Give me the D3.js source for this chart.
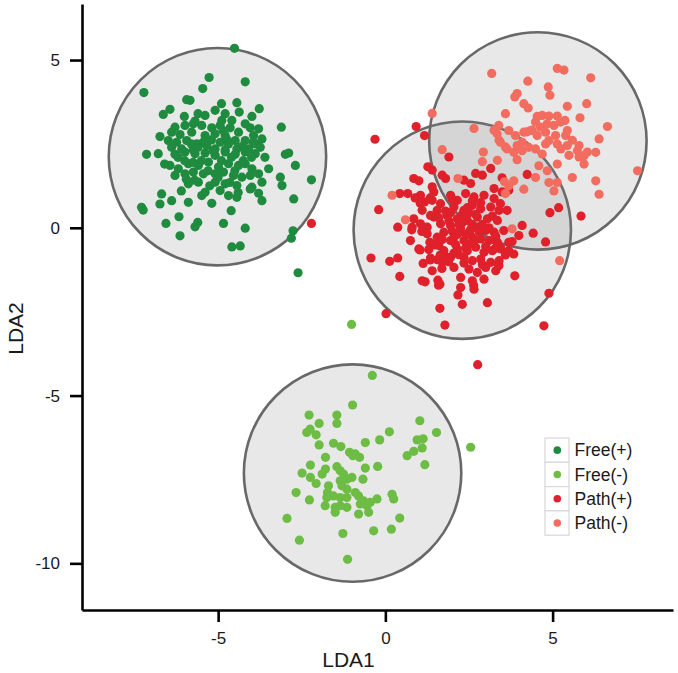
<!DOCTYPE html>
<html>
<head>
<meta charset="utf-8">
<script src="https://cdn.jsdelivr.net/npm/d3@7"></script>
<style>
  html, body { margin: 0; padding: 0; background: #ffffff; }
  svg { display: block; }
  text { font-family: "Liberation Sans", Arial, Helvetica, sans-serif; }
</style>
</head>
<body>
<div id="chart"></div>
<script>
// ---------------- data ----------------
const categories = ["Free(+)", "Free(-)", "Path(+)", "Path(-)"];
const colors = ["#1f8b3f", "#6dbd45", "#e0202a", "#f26d5f"];
const xTicks = [-5, 0, 5];
const yTicks = [-10, -5, 0, 5];
const xLabel = "LDA1";
const yLabel = "LDA2";

// circle centres (LDA1, LDA2) and radius in LDA units
const circleCenters = [[-5.02, 2.12], [-0.98, -7.31], [2.30, -0.07], [4.56, 2.59]];
const circleRadius = 3.25;

const freePlus = [
  [-4.51,5.35],[-7.22,4.03],[-5.27,4.48],[-4.19,4.35],[-5.46,4.15],[-5.94,3.82],[-5.84,3.80],[-4.44,3.73],
  [-6.44,3.53],[-6.64,3.38],[-6.01,3.32],[-5.39,3.35],[-5.09,3.50],[-4.79,3.40],[-4.37,3.45],[-3.77,3.55],
  [-3.99,3.32],[-5.69,3.18],[-4.89,3.20],[-4.59,3.20],[-6.29,3.00],[-5.99,3.05],[-5.74,3.10],[-5.49,3.05],
  [-5.19,2.98],[-4.94,3.05],[-4.64,2.98],[-4.19,3.10],[-4.04,2.98],[-3.79,2.95],[-3.11,3.00],[-6.39,2.85],
  [-6.14,2.78],[-5.79,2.85],[-5.39,2.75],[-5.09,2.80],[-4.79,2.75],[-4.39,2.85],[-3.94,2.75],[-6.74,2.72],
  [-6.49,2.60],[-6.24,2.55],[-5.94,2.60],[-5.64,2.50],[-5.34,2.45],[-4.94,2.55],[-4.69,2.50],[-4.49,2.60],
  [-4.19,2.60],[-3.89,2.50],[-3.69,2.65],[-6.39,2.40],[-6.09,2.35],[-5.74,2.32],[-5.09,2.35],[-4.79,2.32],
  [-4.44,2.35],[-4.09,2.35],[-3.74,2.40],
  [-7.14,2.19],[-6.79,2.21],[-6.29,2.19],[-5.99,2.26],[-5.69,2.21],[-5.39,2.23],[-5.09,2.16],[-4.79,2.26],
  [-4.49,2.19],[-4.19,2.26],[-3.89,2.21],[-2.99,2.19],[-2.89,2.23],
  [-6.44,1.86],[-6.19,1.76],[-5.89,1.91],[-5.59,1.86],[-5.29,1.96],[-4.99,1.81],[-4.69,1.91],[-4.39,1.86],
  [-4.19,1.91],[-3.99,1.76],[-3.49,1.76],[-2.69,1.86],[-6.29,1.56],[-5.99,1.61],[-5.74,1.66],[-5.44,1.61],
  [-5.09,1.61],[-4.84,1.66],[-4.54,1.56],[-4.29,1.51],[-4.04,1.56],[-3.79,1.61],[-3.14,1.51],[-3.09,1.26],
  [-2.21,1.43],
  [-5.89,1.31],[-5.59,1.36],[-5.09,1.36],[-4.79,1.31],[-4.44,1.26],[-3.99,1.21],[-3.69,1.36],[-5.39,1.06],
  [-5.49,0.96],[-4.94,1.11],[-4.69,0.96],[-4.44,0.91],[-4.04,1.16],[-3.79,1.03],[-6.69,1.01],[-6.74,0.71],
  [-6.39,0.81],[-5.89,0.76],[-5.19,0.73],[-3.69,0.81],[-2.74,0.86],[-7.29,0.61],[-7.24,0.53],
  [-4.61,0.51],[-6.56,0.13],[-6.17,0.33],[-5.61,0.16],[-5.69,0.03],[-4.84,0.13],[-4.19,-0.01],[-6.14,-0.24],
  [-2.76,-0.09],[-2.81,-0.31],[-4.59,-0.57],[-4.34,-0.54],[-2.61,-1.34],
  [-5.60,2.40],[-5.20,2.62],[-4.90,2.00],[-5.50,2.00],[-4.60,2.10],[-5.80,2.50],[-4.30,2.42],[-5.00,1.50],
  [-5.30,1.70],[-4.50,1.70],[-5.70,1.42],[-6.00,2.00],[-4.00,2.10],[-5.15,2.30],[-4.75,2.65],
  [-6.20,2.10],[-5.95,1.45],[-5.45,2.55],[-4.85,2.90],[-4.25,2.00],[-3.95,2.55],[-5.75,1.95],[-6.60,1.90],
  [-4.65,1.35],[-5.25,1.25],[-3.60,2.10],[-4.90,3.70],[-5.60,3.40],[-6.10,1.10],[-4.40,1.05]
];

const freeMinus = [
  [-0.39,-4.40],[-0.98,-5.28],[-2.28,-5.58],[-1.45,-5.58],[-1.45,-5.83],[-1.98,-5.83],[-2.25,-6.00],[-2.35,-6.10],
  [-2.07,-6.17],[-1.98,-6.47],[-1.55,-6.42],[-1.33,-6.52],[-0.60,-6.40],[-0.17,-6.32],[0.12,-6.08],[1.03,-5.75],
  [1.53,-6.10],[0.95,-6.32],[1.13,-6.29],[1.10,-6.56],[0.85,-6.66],[0.65,-6.79],[1.18,-7.06],[2.55,-6.54],
  [-1.07,-6.69],[-0.90,-6.74],[-0.77,-6.84],[-0.97,-6.79],[-1.79,-6.84],[-2.24,-7.07],[-1.45,-7.12],[-1.35,-7.24],
  [-1.79,-7.19],[-1.89,-7.34],[-0.60,-7.16],[-0.23,-7.11],[-2.49,-7.31],[-2.24,-7.44],[-2.07,-7.62],[-1.70,-7.69],
  [-1.73,-7.89],[-1.25,-7.34],[-1.15,-7.49],[-1.00,-7.44],[-1.35,-7.54],[-0.67,-7.49],[-1.30,-7.69],[-1.15,-7.79],
  [-2.67,-7.89],[-2.27,-8.11],[-1.75,-8.04],[-1.55,-7.99],[-1.35,-8.04],[-1.15,-8.04],[-0.90,-7.89],[-0.80,-7.99],
  [-0.65,-8.14],[-1.80,-8.28],[-1.50,-8.33],[-1.35,-8.28],[-1.15,-8.33],[-0.75,-8.23],[-0.45,-8.18],[-0.25,-8.08],
  [-0.55,-8.28],[0.20,-7.94],[0.25,-8.08],[-1.50,-8.48],[-0.80,-8.53],[-0.50,-8.48],[0.43,-8.65],[-2.94,-8.66],
  [-1.27,-9.11],[-0.35,-9.03],[0.18,-8.98],[-2.57,-9.31],[-1.13,-9.88],[-1.01,-2.88]
];

const pathPlus = [
  [-2.21,0.13],[-0.31,2.64],[0.92,3.02],[1.17,2.75],[1.90,2.11],[4.24,1.59],[4.92,0.45],[5.18,0.60],
  [5.85,0.35],[4.79,-0.42],[4.89,-1.95],[4.74,-2.92],[0.02,-2.56],[1.78,-2.90],[-0.43,-0.90],[-0.20,0.54],
  [2.76,-4.08],
  [0.43,1.02],[0.67,1.02],[1.00,0.92],[1.17,0.77],[1.40,0.82],[1.45,1.07],[0.37,0.02],[0.80,0.02],
  [1.05,0.12],[1.25,0.02],[1.45,0.32],[1.65,0.12],[0.75,-0.38],[1.00,-0.63],[1.33,-0.43],[1.55,-0.28],
  [1.75,-0.13],[1.95,-0.38],[0.13,-1.00],[0.37,-0.90],[1.13,-1.06],[1.35,-0.90],[1.40,-1.28],[1.70,-1.03],
  [1.85,-0.88],[0.43,-1.45],[1.10,-1.58],[1.57,-1.56],[1.63,-1.68],[2.25,-1.78],[2.17,-2.00],[2.60,-1.58],
  [2.65,-1.83],[2.95,-1.53],[3.05,-2.23],[2.30,-2.28],[1.63,-2.40],
  [1.95,0.97],[2.15,0.82],[2.40,1.02],[2.65,0.92],[2.95,0.97],[3.25,0.87],[2.05,0.62],[2.35,0.52],
  [2.60,0.67],[2.85,0.57],[3.15,0.62],[3.40,0.52],[1.85,0.37],[2.15,0.27],[2.45,0.22],[2.75,0.32],
  [3.05,0.27],[3.35,0.22],[1.95,0.07],[2.25,-0.03],[2.50,-0.13],[2.75,0.02],[3.00,-0.08],[3.25,-0.13],
  [2.05,-0.28],[2.35,-0.38],[2.60,-0.28],[2.85,-0.33],[3.10,-0.38],[3.35,-0.43],[2.15,-0.63],[2.45,-0.68],
  [2.70,-0.58],[2.95,-0.73],[3.20,-0.68],[3.45,-0.63],[2.35,-0.88],[2.60,-0.98],[2.85,-0.93],[3.15,-1.03],
  [3.40,-0.98],[2.50,-1.23],[2.75,-1.33],[3.00,-1.18],[3.30,-1.28],
  [1.10,0.52],[1.35,0.37],[1.55,0.52],[1.65,0.72],[0.85,0.27],[1.25,-0.18],[1.60,-0.53],[1.75,-0.68],
  [1.95,-0.88],[2.05,-1.18],[2.25,-1.48],
  [3.49,1.07],[3.69,1.12],[3.44,0.72],[3.64,0.52],[4.09,0.07],[3.99,-0.23],[4.42,-0.16],[3.54,-0.08],
  [3.29,-0.38],[3.44,-0.58],[3.69,-0.43],[3.69,-0.68],[3.84,-0.78],[3.39,-1.13],[3.87,-1.43],
  [1.27,1.82],[1.40,1.72],[1.70,1.57],[1.80,1.47],[0.85,1.47],[1.00,1.40],[1.05,0.97],[1.40,1.22],
  [2.35,1.42],[2.55,1.32],[2.70,1.62],[2.90,1.57],[3.15,1.77],[3.25,1.17],[3.49,1.49],
  [0.89,0.89],[1.04,0.74],[1.34,0.89],[0.79,-0.06],[1.09,-0.11],[1.04,-0.66],[1.49,-0.51],[1.64,-0.81],
  [1.89,-1.01],[1.34,-0.96],[1.19,-1.61],[1.59,-1.71],[1.69,-1.21],[2.64,-1.71],[3.79,-0.41],[3.59,-0.81],
  [3.39,-1.11],[3.29,-0.61],
  [2.20,0.10],[2.40,-0.20],[2.60,0.10],[2.00,-0.10],[2.30,0.40],[2.50,-0.50],[2.80,-0.10],[2.10,-0.50],
  [1.90,0.20],[2.70,0.40],[2.90,0.10],[2.20,-0.80],[2.45,0.60],[1.80,0.50],[3.10,0.00],[2.35,-1.05],
  [2.00,0.85],[2.60,0.80],[1.70,-0.35],[3.00,-0.55],
  [2.30,0.15],[2.55,-0.05],[2.15,-0.20],[2.70,-0.35],[2.40,-0.60],[1.95,0.45],[2.85,0.75],[3.20,0.35],
  [1.60,0.30],[2.05,-0.75],[2.90,-1.10],[1.55,-0.95],[2.50,0.45],[3.30,-0.25],[1.30,-0.65]
];

const pathMinus = [
  [3.18,4.60],[5.14,4.75],[5.34,4.70],[6.14,4.47],[4.26,4.37],[4.87,4.20],[4.92,3.95],[3.94,4.00],
  [3.87,3.90],[4.14,3.70],[4.27,3.57],[5.44,3.62],[6.02,3.70],[3.59,3.40],[4.54,3.32],[4.69,3.35],
  [4.89,3.33],[5.14,3.33],[5.37,3.20],[5.82,3.28],[6.64,3.02],[4.49,3.15],[4.64,3.00],[4.84,3.10],
  [5.04,3.05],[5.24,3.15],[5.44,2.90],[4.14,2.85],[4.34,2.90],[4.54,2.75],[4.79,2.85],[4.89,2.60],
  [5.09,2.75],[5.39,2.75],[5.44,2.45],[5.79,2.45],[5.74,2.30],[5.94,2.15],[5.94,1.90],[6.29,2.25],
  [6.39,2.65],[3.39,3.05],[3.34,2.80],[3.69,2.90],[3.89,2.75],[4.09,2.55],[3.94,2.45],[4.29,2.40],
  [4.49,2.35],[4.79,2.50],[4.69,2.20],[5.14,2.50],[5.25,2.35],[3.44,2.55],[3.64,2.35],[3.84,2.25],
  [4.09,2.30],[3.94,2.03],[4.59,1.85],[4.84,1.70],[5.14,1.90],[5.59,1.50],[4.89,1.35],[5.14,1.35],
  [5.04,1.10],[6.29,1.40],[6.39,1.00],[7.54,1.70],[4.49,1.50],[4.14,1.15],[3.84,1.40],[3.69,1.25],
  [1.40,3.41],[2.65,2.96],[3.25,2.91],[3.40,2.61],[1.70,2.33],[2.93,2.26],[2.90,1.97],[3.35,2.01],
  [2.17,1.47],[0.20,0.97],[0.60,0.24],[3.59,1.02],[3.79,-0.03],[5.21,-0.98],[5.49,2.16],[5.79,2.11],
  [3.56,1.37],[4.39,2.91],[4.24,2.86],[5.59,2.61],[6.04,2.26],[3.59,2.41]
];

const groups = [freePlus, freeMinus, pathPlus, pathMinus];

// ---------------- drawing ----------------
const W = 678, H = 673;
const svg = d3.select("#chart").append("svg").attr("width", W).attr("height", H);

const x = d3.scaleLinear().domain([-9.07, 8.6]).range([82, 673]);
const y = d3.scaleLinear().domain([-11.39, 6.67]).range([610, 4]);

// circles
const rPx = x(circleRadius) - x(0);
svg.append("g").selectAll("circle")
  .data(circleCenters)
  .join("circle")
  .attr("cx", d => x(d[0]))
  .attr("cy", d => y(d[1]))
  .attr("r", rPx)
  .attr("fill", "#7f7f7f")
  .attr("fill-opacity", 0.18)
  .attr("stroke", "#686868")
  .attr("stroke-width", 2.6);

// points
groups.forEach((g, i) => {
  svg.append("g").selectAll("circle")
    .data(g)
    .join("circle")
    .attr("cx", d => x(d[0]))
    .attr("cy", d => y(d[1]))
    .attr("r", 4.6)
    .attr("fill", colors[i]);
});

// axes
const xAxis = svg.append("g")
  .attr("transform", "translate(0,610)")
  .call(d3.axisBottom(x).tickValues(xTicks).tickSize(12).tickSizeOuter(0).tickPadding(10).tickFormat(d3.format("d")));
const yAxis = svg.append("g")
  .attr("transform", "translate(82,0)")
  .call(d3.axisLeft(y).tickValues(yTicks).tickSize(12).tickSizeOuter(0).tickPadding(10).tickFormat(d3.format("d")));

[xAxis, yAxis].forEach(a => {
  a.select(".domain").attr("stroke", "#000").attr("stroke-width", 2.6);
  a.selectAll(".tick line").attr("stroke", "#000").attr("stroke-width", 2.6);
  a.selectAll(".tick text").attr("fill", "#1a1a1a").style("font-size", "17px")
    .style("font-family", "'Liberation Sans', Arial, Helvetica, sans-serif");
});
// use hyphen-minus for negative labels like the reference
svg.selectAll(".tick text").text(d => String(d));

// axis titles
svg.append("text")
  .attr("x", 348.5).attr("y", 667)
  .attr("text-anchor", "middle")
  .style("font-size", "21px").attr("fill", "#1a1a1a")
  .text(xLabel);
svg.append("text")
  .attr("transform", "translate(23,328.5) rotate(-90)")
  .attr("text-anchor", "middle")
  .style("font-size", "21px").attr("fill", "#1a1a1a")
  .text(yLabel);

// legend
const legend = svg.append("g").attr("transform", "translate(545,438)");
const keyH = 24.3;
categories.forEach((c, i) => {
  const row = legend.append("g").attr("transform", `translate(0,${i * keyH})`);
  row.append("rect").attr("x", 0).attr("y", 0).attr("width", 24).attr("height", keyH)
    .attr("fill", "#ffffff").attr("stroke", "#d8d8d8").attr("stroke-width", 1.2);
  row.append("circle").attr("cx", 12.3).attr("cy", keyH / 2).attr("r", 3.8).attr("fill", colors[i]);
  row.append("text").attr("x", 29.5).attr("y", keyH / 2 + 6.3)
    .style("font-size", "17.5px").attr("fill", "#1a1a1a").text(c);
});
</script>
</body>
</html>
